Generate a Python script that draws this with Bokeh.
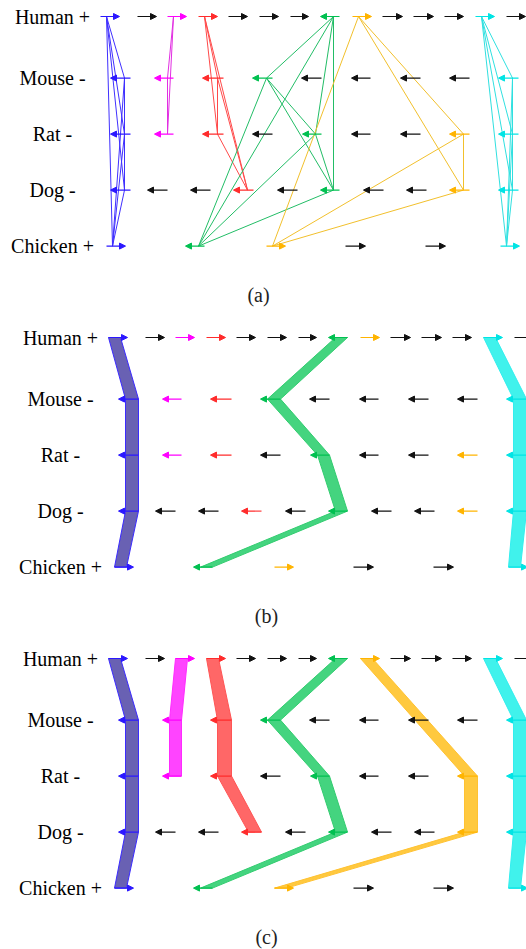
from itertools import combinations

from bokeh.core.properties import value
from bokeh.embed import file_html
from bokeh.layouts import column
from bokeh.models import Arrow, ColumnDataSource, NormalHead, Range1d
from bokeh.plotting import figure
from bokeh.resources import INLINE

# ---------------------------------------------------------------------------
# Loci: one row per species, genes given by start/end position along the locus,
# orientation (+1 forward, -1 reverse) and ortholog family ("" = no ortholog)
# ---------------------------------------------------------------------------
SPECIES = ["Human", "Mouse", "Rat", "Dog", "Chicken"]
LOCUS_STRAND = ["+", "-", "-", "-", "+"]

HUMAN_START = [108, 145, 175, 206, 236, 267, 298, 328, 360, 390, 421, 452, 483, 514]
HUMAN_END = [127, 164, 194, 225, 255, 286, 316, 347, 379, 410, 441, 471, 502, 533]
HUMAN_DIR = [1, 1, 1, 1, 1, 1, 1, -1, 1, 1, 1, 1, 1, 1]
HUMAN_FAM = ["A", "", "B", "C", "", "", "", "D", "E", "", "", "", "F", ""]

MOUSE_START = [118, 162, 210, 260, 309, 359, 408, 457, 506]
MOUSE_END = [138, 181, 231, 280, 329, 378, 428, 477, 526]
MOUSE_DIR = [-1, -1, -1, -1, -1, -1, -1, -1, -1]
MOUSE_FAM = ["A", "B", "C", "D", "", "", "", "", "F"]

RAT_START = [118, 162, 210, 260, 310, 359, 408, 457, 506]
RAT_END = [138, 181, 231, 280, 329, 378, 428, 477, 526]
RAT_DIR = [-1, -1, -1, -1, -1, -1, -1, -1, -1]
RAT_FAM = ["A", "B", "C", "", "D", "", "", "E", "F"]

DOG_START = [118, 155, 198, 241, 285, 328, 371, 414, 457, 506]
DOG_END = [138, 175, 218, 261, 305, 347, 391, 434, 477, 526]
DOG_DIR = [-1, -1, -1, -1, -1, -1, -1, -1, -1, -1]
DOG_FAM = ["A", "", "", "C", "", "D", "", "", "E", "F"]

CHICKEN_START = [114, 193, 274, 353, 433, 508]
CHICKEN_END = [133, 212, 293, 373, 453, 527]
CHICKEN_DIR = [1, -1, 1, 1, 1, 1]
CHICKEN_FAM = ["A", "D", "E", "", "", "F"]

FAMILIES = ["A", "B", "C", "D", "E", "F"]
GENE_COLOR = {"A": "#2b17ff", "B": "#ff00ff", "C": "#ff2b2b", "D": "#00c050",
              "E": "#ffb400", "F": "#00e4e4", "": "#111111"}
LINK_COLOR = {"A": "#4030ff", "B": "#e22ee2", "C": "#ff4a4a", "D": "#22bd66",
              "E": "#f2c02c", "F": "#30e0e0"}
BAND_FILL = {"A": "#6961b3", "B": "#ff44ff", "C": "#ff6767", "D": "#44d47f",
             "E": "#ffc93f", "F": "#40f2ec"}
BAND_LINE = {"A": "#3b2bff", "B": "#ff2aff", "C": "#ff5555", "D": "#33cc70",
             "E": "#ffc232", "F": "#33eeee"}

LOCI = [
    (HUMAN_START, HUMAN_END, HUMAN_DIR, HUMAN_FAM),
    (MOUSE_START, MOUSE_END, MOUSE_DIR, MOUSE_FAM),
    (RAT_START, RAT_END, RAT_DIR, RAT_FAM),
    (DOG_START, DOG_END, DOG_DIR, DOG_FAM),
    (CHICKEN_START, CHICKEN_END, CHICKEN_DIR, CHICKEN_FAM),
]

# layout constants
ROW_Y = [0.0, 1.1, 2.1, 3.1, 4.1]
PX_PER_ROW = 56.0
TOP_PAD = 16.0
HEAD = 7          # arrow head length, in position units
LABEL_X = 60
CAPTION_X = 266
CAPTION_Y = 4.98
SERIF = value("Liberation Serif")


def family_members(fam):
    """(row, start, end, dir) for every gene of an ortholog family, in row order."""
    out = []
    for r, (st, en, dr, fm) in enumerate(LOCI):
        for s, e, d, f in zip(st, en, dr, fm):
            if f == fam:
                out.append((r, s, e, d))
    return out


def draw_genes(p):
    groups = {}
    for r, (st, en, dr, fm) in enumerate(LOCI):
        for s, e, d, f in zip(st, en, dr, fm):
            g = groups.setdefault(f, {"xs": [], "xe": [], "y": []})
            g["xs"].append(s if d > 0 else e)
            g["xe"].append(e if d > 0 else s)
            g["y"].append(ROW_Y[r])
    for f, g in groups.items():
        c = GENE_COLOR[f]
        p.add_layout(Arrow(
            end=NormalHead(size=6, fill_color=c, line_color=c, line_width=1),
            x_start="xs", y_start="y", x_end="xe", y_end="y",
            source=ColumnDataSource(g), line_color=c, line_width=1.1))


def draw_links(p):
    x0, y0, x1, y1, col = [], [], [], [], []
    for fam in FAMILIES:
        members = family_members(fam)
        anchors = [(s + 6 if d > 0 else e - 6, ROW_Y[r]) for r, s, e, d in members]
        for (ax, ay), (bx, by) in combinations(anchors, 2):
            x0.append(ax); y0.append(ay); x1.append(bx); y1.append(by)
            col.append(LINK_COLOR[fam])
    p.segment(x0=x0, y0=y0, x1=x1, y1=y1, line_color=col, line_width=1)


def draw_bands(p, fams):
    for fam in fams:
        members = family_members(fam)
        left, right, ys = [], [], []
        for r, s, e, d in members:
            lo, hi = (s, e - HEAD) if d > 0 else (s + HEAD, e)
            left.append(lo); right.append(hi); ys.append(ROW_Y[r])
        p.patch(left + right[::-1], ys + ys[::-1],
                fill_color=BAND_FILL[fam], line_color=BAND_LINE[fam], line_width=1)


def make_panel(height, x_shift, caption, mode):
    p = figure(width=526, height=height,
               x_range=Range1d(x_shift, 526 + x_shift),
               y_range=Range1d((height - TOP_PAD) / PX_PER_ROW, -TOP_PAD / PX_PER_ROW),
               x_axis_type=None, y_axis_type=None,
               output_backend="svg", toolbar_location=None, min_border=0)
    p.grid.visible = False
    p.outline_line_color = None
    p.background_fill_color = "white"

    if mode == "links":
        draw_links(p)
    elif mode == "shared":
        shared = [f for f in FAMILIES if len(family_members(f)) == len(SPECIES)]
        draw_bands(p, shared)
    else:
        draw_bands(p, FAMILIES)
    draw_genes(p)

    p.text(x=[LABEL_X] * len(SPECIES), y=ROW_Y,
           text=[f"{s} {st}" for s, st in zip(SPECIES, LOCUS_STRAND)],
           text_align="center", text_baseline="middle",
           text_font=SERIF, text_font_size="20px", text_color="black")
    p.text(x=[CAPTION_X], y=[CAPTION_Y], text=[caption],
           text_align="center", text_baseline="middle",
           text_font=SERIF, text_font_size="20px", text_color="#222222")
    return p


pa = make_panel(321, 8, "(a)", "links")
pb = make_panel(321, 0, "(b)", "shared")
pc = make_panel(307, 0, "(c)", "all")

layout = column(pa, pb, pc, spacing=0)
open("out.html", "w").write(file_html(layout, INLINE))
